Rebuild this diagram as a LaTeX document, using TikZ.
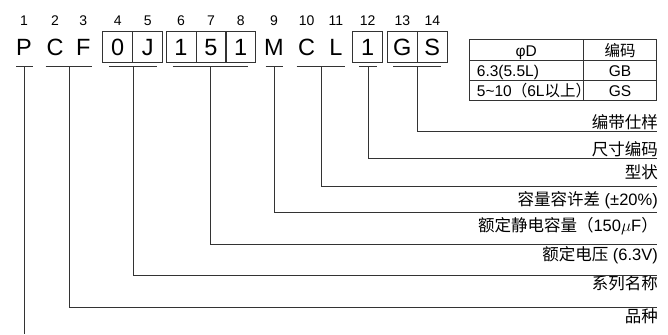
\documentclass[tikz,border=0pt]{standalone}
\usepackage{fontspec}
\setmainfont{Liberation Sans}
\newfontfamily\cjk{Noto Sans CJK SC}
\usepackage{tikz}
\usetikzlibrary{positioning}
\tikzstyle{letter} = [font=\fontsize{23.5}{24}\selectfont, text height=17pt, text depth=0pt, inner sep=0pt, minimum width=30pt, minimum height=30.5pt]
\tikzstyle{cell} = [letter, draw=black!80, line width=0.75pt]
\tikzstyle{digit} = [font=\fontsize{14}{14}\selectfont, text depth=0pt, inner sep=0pt]
\tikzstyle{label} = [font=\fontsize{16.5}{18}\selectfont, anchor=base east, inner sep=0pt]
\tikzstyle{tabtext} = [font=\fontsize{15.5}{16}\selectfont, anchor=base, inner sep=0pt]
\tikzstyle{line} = [draw=black!80, line width=0.75pt]

\begin{document}
\begin{tikzpicture}[x=1pt, y=-1pt, node distance=6pt]
    \useasboundingbox (0,0) rectangle (668,334);

    % Code letters
    \node (p) [letter] at (24,47) {P};
    \node (c) [letter] at (55,47) {C};
    \node (f) [letter] at (83.3,47) {F};
    \node (zero) [cell] at (117.7,47) {0};
    \node (j) [cell] at (147.7,47) {J};
    \node (one) [cell] at (181,47) {1};
    \node (five) [cell] at (211,47) {5};
    \node (onea) [cell] at (240.7,47) {1};
    \node (m) [letter] at (274,47) {M};
    \node (ca) [letter] at (306.7,47) {C};
    \node (l) [letter] at (336,47) {L};
    \node (oneb) [cell] at (367.7,47) {1};
    \node (g) [cell] at (402.3,47) {G};
    \node (s) [cell] at (432.3,47) {S};

    % Position numbers
    \node (n1) [digit, above=of p] {1};
    \node (n2) [digit, above=of c] {2};
    \node (n3) [digit, above=of f] {3};
    \node (n4) [digit, above=of zero] {4};
    \node (n5) [digit, above=of j] {5};
    \node (n6) [digit, above=of one] {6};
    \node (n7) [digit, above=of five] {7};
    \node (n8) [digit, above=of onea] {8};
    \node (n9) [digit, above=of m] {9};
    \node (n10) [digit, above=of ca] {10};
    \node (n11) [digit, above=of l] {11};
    \node (n12) [digit, above=of oneb] {12};
    \node (n13) [digit, above=of g] {13};
    \node (n14) [digit, above=of s] {14};

    % Tape table
    \draw [line] (469.3,39.3) rectangle (656.7,100.7);
    \draw [line] (469.3,60.7) -- (656.7,60.7);
    \draw [line] (469.3,80.7) -- (656.7,80.7);
    \draw [line] (583.3,39.3) -- (583.3,100.7);
    \node (hd) [tabtext] at (526.3,56.5) {φD};
    \node (hcode) [tabtext] at (620,56.5) {\cjk 编码};
    \node (r1) [tabtext, anchor=base west] at (476.7,76.5) {6.3(5.5L)};
    \node (r1code) [tabtext] at (620,76.5) {GB};
    \node (r2) [tabtext, anchor=base west] at (476.7,96.5) {5\textasciitilde10{\cjk （}6L{\cjk 以上）}};
    \node (r2code) [tabtext] at (620,96.5) {GS};

    % Labels
    \node (ltape) [label] at (658,128.8) {\cjk 编带仕样};
    \node (lsize) [label] at (658,155.3) {\cjk 尺寸编码};
    \node (lshape) [label] at (658,178.8) {\cjk 型状};
    \node (ltol) [label] at (658,205.3) {{\cjk 容量容许差} (±20\%)};
    \node (lcap) [label] at (658,231.6) {{\cjk 额定静电容量（}150$\mu$F{\cjk ）}};
    \node (lvolt) [label] at (658,260.3) {{\cjk 额定电压} (6.3V)};
    \node (lseries) [label] at (658,289.6) {\cjk 系列名称};
    \node (lkind) [label] at (658,322.3) {\cjk 品种};

    % Underlines
    \draw [line] (16,66.7) -- (33.3,66.7);
    \draw [line] (45.7,66.7) -- (92.3,66.7);
    \draw [line] (109.3,66.7) -- (156.7,66.7);
    \draw [line] (172.7,66.7) -- (248.3,66.7);
    \draw [line] (265.7,66.7) -- (282.7,66.7);
    \draw [line] (296.7,66.7) -- (345,66.7);
    \draw [line] (359.3,66.7) -- (376.7,66.7);
    \draw [line] (393.3,66.7) -- (440.7,66.7);

    % Connectors
    \coordinate (gp) at (24.7,66.7);
    \coordinate (gcf) at (69,66.7);
    \coordinate (gvolt) at (133,66.7);
    \coordinate (gcap) at (210.5,66.7);
    \coordinate (gtol) at (274.2,66.7);
    \coordinate (gshape) at (320.9,66.7);
    \coordinate (gsize) at (368,66.7);
    \coordinate (gtape) at (417.3,66.7);
    \coordinate (etape) at (656.5,131.7);
    \coordinate (esize) at (656.5,158.3);
    \coordinate (eshape) at (656.5,186);
    \coordinate (etol) at (656.5,212);
    \coordinate (ecap) at (656.5,244);
    \coordinate (evolt) at (656.5,275.5);
    \coordinate (eseries) at (656.5,307.5);
    \coordinate (ekind) at (24.7,334);
    \draw [line] (gtape) |- (etape);
    \draw [line] (gsize) |- (esize);
    \draw [line] (gshape) |- (eshape);
    \draw [line] (gtol) |- (etol);
    \draw [line] (gcap) |- (ecap);
    \draw [line] (gvolt) |- (evolt);
    \draw [line] (gcf) |- (eseries);
    \draw [line] (gp) -- (ekind);
\end{tikzpicture}
\end{document}
